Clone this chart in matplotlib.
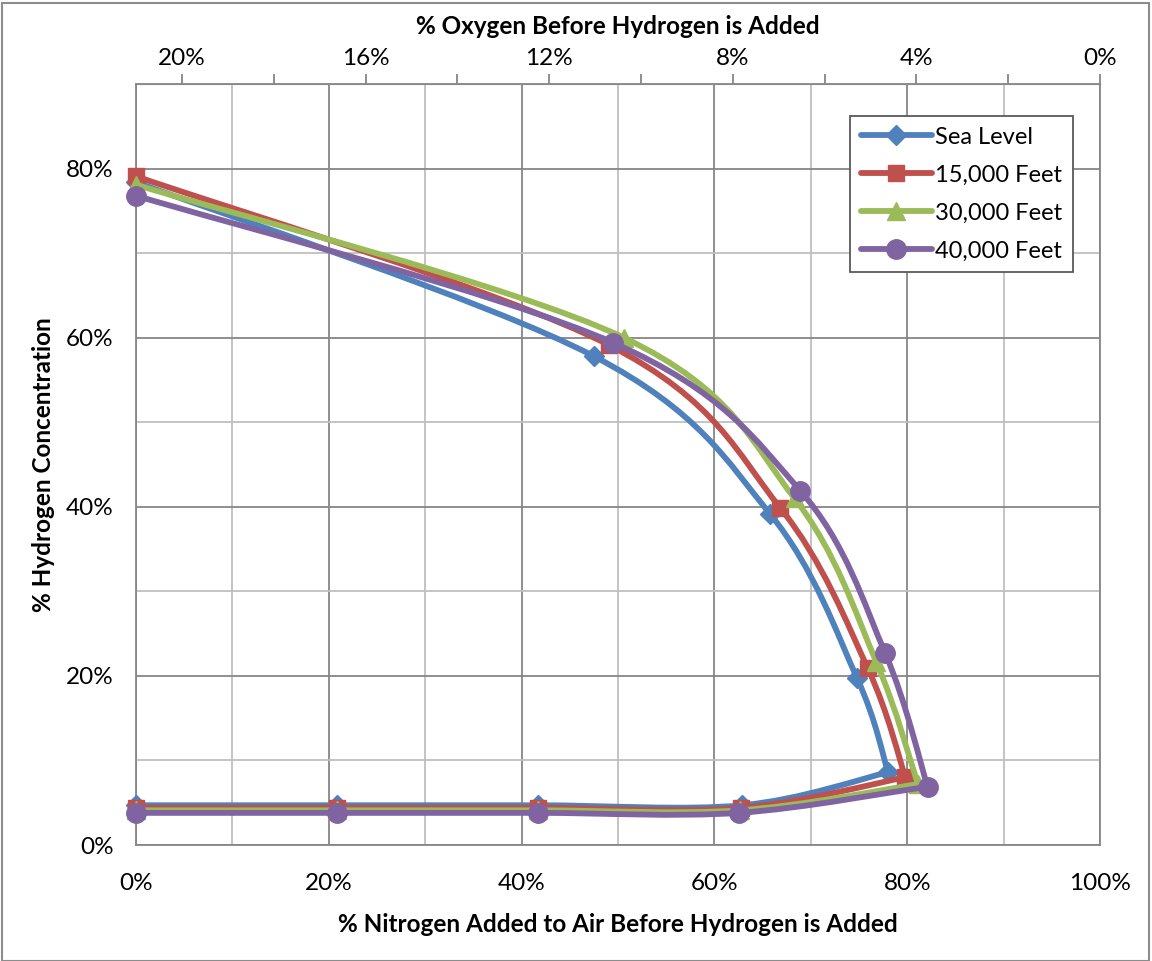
import matplotlib
matplotlib.use("Agg")
import matplotlib.pyplot as plt
import numpy as np
from matplotlib.path import Path
from matplotlib.patches import PathPatch, Rectangle
from matplotlib.lines import Line2D
from matplotlib.ticker import FuncFormatter, MultipleLocator, FixedLocator

plt.rcParams["font.family"] = ["Lato", "DejaVu Sans"]

# each series runs along the upper branch (left -> right) to the tip,
# then back along the lower branch
series_names = ["Sea Level", "15,000 Feet", "30,000 Feet", "40,000 Feet"]
nitrogen = {
    "Sea Level": [0, 47.5, 65.8, 74.8, 78.0, 62.9, 41.7, 20.9, 0],
    "15,000 Feet": [0, 49.1, 66.8, 75.9, 79.8, 62.7, 41.7, 20.9, 0],
    "30,000 Feet": [0, 50.6, 68.3, 76.8, 81.1, 62.6, 41.7, 20.9, 0],
    "40,000 Feet": [0, 49.5, 68.9, 77.7, 82.1, 62.5, 41.7, 20.9, 0],
}
hydrogen = {
    "Sea Level": [78.4, 57.8, 39.1, 19.7, 8.6, 4.7, 4.7, 4.7, 4.7],
    "15,000 Feet": [79.1, 59.1, 39.9, 20.9, 8.0, 4.4, 4.4, 4.4, 4.4],
    "30,000 Feet": [78.1, 60.0, 41.0, 21.6, 7.2, 4.1, 4.1, 4.1, 4.1],
    "40,000 Feet": [76.8, 59.4, 41.9, 22.7, 6.9, 3.8, 3.8, 3.8, 3.8],
}
TIP = 4  # index of the turning point
colors = ["#4F81BD", "#C0504D", "#9BBB59", "#8064A2"]
markers = ["D", "s", "^", "o"]
msizes = [10, 12, 13, 14]

AIR_O2 = 21.0  # % oxygen in air


def smooth_path(x, y):
    # Excel-like smoothed line: cubic bezier through every point
    pts = np.column_stack([x, y]).astype(float)
    n = len(pts)
    verts = [pts[0]]
    codes = [Path.MOVETO]
    for i in range(n - 1):
        p0 = pts[i - 1] if i > 0 else pts[i]
        p1 = pts[i]
        p2 = pts[i + 1]
        p3 = pts[i + 2] if i + 2 < n else pts[i + 1]
        c1 = p1 + (p2 - p0) / 6.0
        c2 = p2 - (p3 - p1) / 6.0
        verts += [c1, c2, p2]
        codes += [Path.CURVE4] * 3
    return Path(verts, codes)


fig = plt.figure(figsize=(11.52, 9.61), dpi=100)
ax = fig.add_axes([0.118, 0.1207, 0.837, 0.7919])
fig.patches.append(Rectangle((0.002, 0.0), 0.995, 0.997, transform=fig.transFigure,
                             fill=False, edgecolor="#8C8C8C", linewidth=1.5))

handles = []
for k, name in enumerate(series_names):
    x = nitrogen[name]
    y = hydrogen[name]
    for xs, ys in [(x[:TIP + 1], y[:TIP + 1]), (x[TIP:], y[TIP:])]:
        ax.add_patch(PathPatch(smooth_path(xs, ys), fill=False,
                               edgecolor=colors[k], linewidth=4.2,
                               capstyle="round", joinstyle="round",
                               zorder=3 + 2 * k))
    ax.plot(x, y, linestyle="none", marker=markers[k], markersize=msizes[k],
            color=colors[k], markeredgecolor=colors[k], zorder=4 + 2 * k,
            clip_on=False)
    handles.append(Line2D([], [], color=colors[k], linewidth=4.2,
                          marker=markers[k], markersize=msizes[k],
                          solid_capstyle="round"))

ax.set_xlim(0, 100)
ax.set_ylim(0, 90)
ax.xaxis.set_major_locator(MultipleLocator(20))
ax.xaxis.set_minor_locator(MultipleLocator(10))
ax.yaxis.set_major_locator(FixedLocator([0, 20, 40, 60, 80]))
ax.yaxis.set_minor_locator(MultipleLocator(10))
pct = FuncFormatter(lambda v, p: f"{v:.0f}%")
ax.xaxis.set_major_formatter(pct)
ax.yaxis.set_major_formatter(pct)
ax.grid(which="major", color="#868686", linewidth=1.3, zorder=0)
ax.grid(which="minor", color="#BFBFBF", linewidth=1.3, zorder=0)
ax.set_axisbelow(True)
ax.tick_params(which="both", length=0, labelsize=17.5)
ax.tick_params(axis="x", pad=20)
ax.tick_params(axis="y", pad=16)
for s in ax.spines.values():
    s.set_color("#868686")
    s.set_linewidth(1.3)

ax.set_xlabel("% Nitrogen Added to Air Before Hydrogen is Added",
              fontsize=17.5, fontweight="bold", labelpad=14)
ax.set_ylabel("% Hydrogen Concentration", fontsize=17.5, fontweight="bold",
              labelpad=8)

top = ax.secondary_xaxis("top", functions=(lambda n: AIR_O2 * (1 - n / 100.0),
                                           lambda o: 100.0 * (1 - o / AIR_O2)))
top.xaxis.set_major_locator(FixedLocator([20, 16, 12, 8, 4, 0]))
top.xaxis.set_minor_locator(FixedLocator([18, 14, 10, 6, 2]))
top.xaxis.set_major_formatter(pct)
top.tick_params(which="both", direction="out", length=7, width=1.3,
                color="#868686", labelsize=17.5, pad=4)
top.spines["top"].set_color("#868686")
top.set_xlabel("% Oxygen Before Hydrogen is Added", fontsize=17.5,
               fontweight="bold", labelpad=10)

leg = ax.legend(handles, series_names, loc="upper right",
                bbox_to_anchor=(0.972, 0.958), borderaxespad=0, fontsize=17,
                fancybox=False, framealpha=1, edgecolor="#595959",
                handlelength=3.0, handletextpad=0.15, labelspacing=0.72,
                borderpad=0.45)
leg.get_frame().set_linewidth(1.3)
leg.set_zorder(20)

fig.savefig("out.png", dpi=100)
